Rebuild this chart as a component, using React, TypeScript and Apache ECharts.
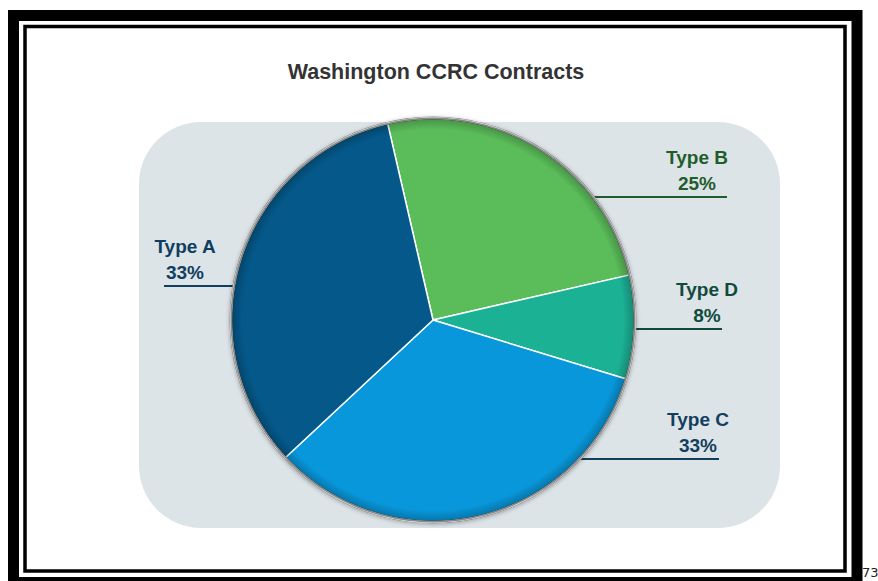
import React, { useEffect, useRef } from "react";
import * as echarts from "echarts";

// ---- data ----
const categories = ["Type B", "Type D", "Type C", "Type A"];
const values = [25, 8.3, 33.3, 33.3];
const percentLabels = ["25%", "8%", "33%", "33%"];
const sliceColors = ["#5bbd5a", "#1bb195", "#0897da", "#04598a"];
const labelColors = ["#1f5d2b", "#0f4a3c", "#133f5e", "#103e60"];

// ---- layout (positions, not data) ----
const CX = 433;
const CY = 320;
const R = 202;
const labelSpots = [
  { x: 697, lineY: 197, endX: 727 },
  { x: 707, lineY: 329, endX: 722 },
  { x: 698, lineY: 459, endX: 719 },
  { x: 185, lineY: 286, endX: 164 },
];

const FONT = "'Liberation Sans', Arial, Helvetica, sans-serif";

export default function App() {
  const ref = useRef<HTMLDivElement>(null);

  useEffect(() => {
    if (!ref.current) return;
    const chart = echarts.init(ref.current, null, { renderer: "svg" });

    const data = categories.map((name, i) => ({
      name,
      value: values[i],
      itemStyle: { color: sliceColors[i] },
      label: { color: labelColors[i] },
      labelLine: { lineStyle: { color: labelColors[i] } },
    }));

    const option: any = {
      animation: false,
      backgroundColor: "#ffffff",
      title: {
        text: "Washington CCRC Contracts",
        left: 436,
        textAlign: "center",
        top: 61,
        padding: 0,
        textStyle: {
          fontFamily: FONT,
          fontSize: 21.5,
          fontWeight: "bold",
          color: "#333333",
        },
      },
      graphic: [
        {
          type: "rect",
          z: -10,
          silent: true,
          shape: { x: 13.5, y: 15.5, width: 843.5, height: 567 },
          style: { fill: "none", stroke: "#000000", lineWidth: 11 },
        },
        {
          type: "rect",
          z: -10,
          silent: true,
          shape: { x: 25, y: 26.5, width: 820, height: 544.5 },
          style: { fill: "none", stroke: "#000000", lineWidth: 3.5 },
        },
        {
          type: "rect",
          z: -10,
          silent: true,
          shape: { x: 139, y: 122, width: 641, height: 406, r: 62 },
          style: { fill: "#dde4e8" },
        },
        {
          type: "text",
          z: -10,
          silent: true,
          x: 862,
          y: 566,
          style: {
            text: "73",
            fontFamily: "'DejaVu Sans', sans-serif",
            fontSize: 13,
            fill: "#222222",
          },
        },
      ],
      series: [
        {
          type: "pie",
          silent: true,
          center: [CX, CY],
          radius: [0, R + 1.5],
          label: { show: false },
          labelLine: { show: false },
          data: [
            {
              value: 1,
              itemStyle: {
                color: "#8d8d8d",
                shadowBlur: 4,
                shadowColor: "rgba(0,0,0,0.3)",
                shadowOffsetY: 1,
              },
            },
          ],
        },
        {
          type: "pie",
          silent: true,
          center: [CX, CY],
          radius: [0, R],
          startAngle: 103,
          clockwise: true,
          avoidLabelOverlap: false,
          itemStyle: { borderColor: "#ffffff", borderWidth: 1.5 },
          label: {
            show: true,
            position: "outside",
            fontFamily: FONT,
            fontSize: 19,
            fontWeight: "bold",
            lineHeight: 26,
            align: "center",
            formatter: (p: any) => `${p.name}\n${percentLabels[p.dataIndex]}`,
          },
          labelLine: { show: true, length: 10, length2: 10, lineStyle: { width: 1.8 } },
          labelLayout: (params: any) => {
            const s = labelSpots[params.dataIndex];
            const dy = s.lineY - CY;
            const dx = Math.sqrt(Math.max(0, R * R - dy * dy));
            const side = s.endX > CX ? 1 : -1;
            const ex = CX + side * (dx - 1);
            return {
              x: s.x,
              y: s.lineY - 1,
              align: "center",
              verticalAlign: "bottom",
              labelLinePoints: [
                [ex, s.lineY],
                [(ex + s.endX) / 2, s.lineY],
                [s.endX, s.lineY],
              ],
            };
          },
          data,
        },
        {
          type: "pie",
          silent: true,
          center: [CX, CY],
          radius: [0, R + 0.5],
          label: { show: false },
          labelLine: { show: false },
          data: [
            {
              value: 1,
              itemStyle: {
                color: {
                  type: "radial",
                  x: 0.5,
                  y: 0.5,
                  r: 0.5,
                  colorStops: [
                    { offset: 0, color: "rgba(0,0,0,0)" },
                    { offset: 0.94, color: "rgba(0,0,0,0)" },
                    { offset: 0.988, color: "rgba(0,0,0,0.2)" },
                    { offset: 0.992, color: "rgba(135,135,135,1)" },
                    { offset: 1, color: "rgba(140,140,140,1)" },
                  ],
                },
              },
            },
          ],
        },
      ],
    };

    chart.setOption(option);
    return () => chart.dispose();
  }, []);

  return (
    <div
      ref={ref}
      style={{ position: "fixed", left: 0, top: 0, width: 878, height: 581, background: "#fff" }}
    />
  );
}
